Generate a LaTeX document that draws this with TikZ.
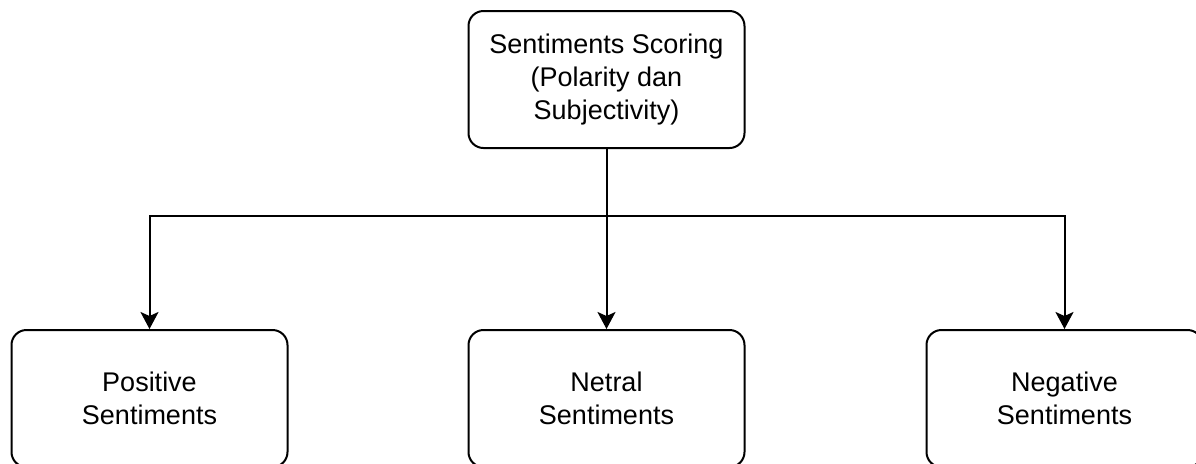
\documentclass[tikz,border=0pt]{standalone}
\usepackage{fontspec}
\setmainfont{Liberation Sans}
\usetikzlibrary{arrows.meta}
\begin{document}
\begin{tikzpicture}[x=0.5pt,y=-0.5pt,
	box/.style={draw,line width=1pt,rounded corners=7.5pt,
		minimum width=138pt,minimum height=68.5pt,inner sep=0pt,
		align=center,font=\fontsize{13.5}{16.5}\selectfont},
	arr/.style={line width=1pt,-{Stealth[length=8.5pt,width=9pt,inset=2pt]}}]
	\useasboundingbox (0,0) rectangle (1196,463);
	% skor sentimen
	\node[box] (score) at (606.5,79.5)
		{Sentiments Scoring\\(Polarity dan\\Subjectivity)};
	% tiga kelas
	\foreach \Xc/\Nama/\Texto in
	{149.5/pos/Positive,606.5/neu/Netral,1064.5/neg/Negative}
	{
		\node[box] (\Nama) at (\Xc,398.5) {\Texto\\Sentiments};
	}
	\coordinate (split) at (606.5,216);
	\draw[arr] (score.south) -- (split) -| (pos.north);
	\draw[arr] (score.south) -- (neu.north);
	\draw[arr] (split) -| (neg.north);
\end{tikzpicture}
\end{document}
